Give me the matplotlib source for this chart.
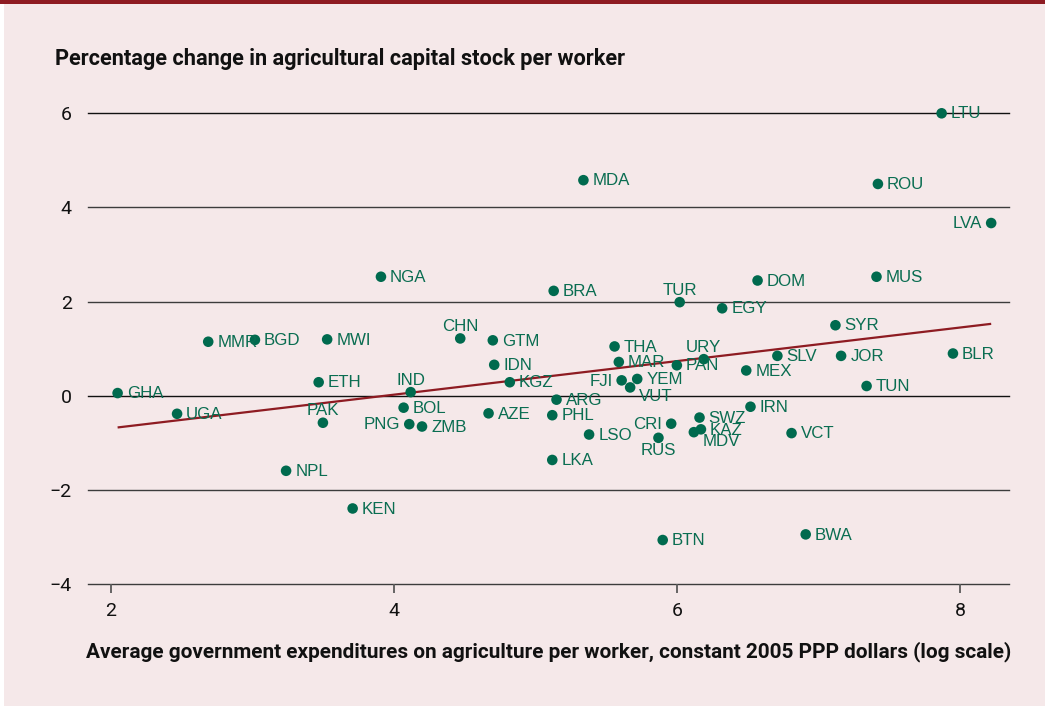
import matplotlib
matplotlib.use("Agg")
import matplotlib.pyplot as plt
from matplotlib.patches import Rectangle

# Country codes with average spending (x) and change in capital stock (y)
codes = ["GHA", "UGA", "MMR", "BGD", "MWI", "NGA", "ETH", "PAK", "NPL", "KEN",
         "IND", "BOL", "PNG", "ZMB", "CHN", "GTM", "IDN", "KGZ", "AZE", "MDA",
         "BRA", "ARG", "PHL", "LKA", "LSO", "THA", "MAR", "FJI", "YEM", "VUT",
         "TUR", "PAN", "URY", "CRI", "RUS", "BTN", "EGY", "DOM", "MEX", "SLV",
         "SWZ", "KAZ", "MDV", "IRN", "VCT", "BWA", "SYR", "JOR", "TUN", "MUS",
         "ROU", "LTU", "LVA", "BLR"]
spending = [2.05, 2.47, 2.69, 3.02, 3.53, 3.91, 3.47, 3.50, 3.24, 3.71,
            4.12, 4.07, 4.11, 4.20, 4.47, 4.70, 4.71, 4.82, 4.67, 5.34,
            5.13, 5.15, 5.12, 5.12, 5.38, 5.56, 5.59, 5.61, 5.72, 5.67,
            6.02, 6.00, 6.19, 5.96, 5.87, 5.90, 6.32, 6.57, 6.49, 6.71,
            6.16, 6.17, 6.12, 6.52, 6.81, 6.91, 7.12, 7.16, 7.34, 7.41,
            7.42, 7.87, 8.22, 7.95]
capital_change = [0.06, -0.38, 1.15, 1.19, 1.20, 2.53, 0.29, -0.57, -1.59, -2.39,
                  0.08, -0.25, -0.60, -0.65, 1.22, 1.18, 0.66, 0.29, -0.37, 4.58,
                  2.23, -0.08, -0.41, -1.36, -0.82, 1.05, 0.72, 0.33, 0.36, 0.18,
                  1.99, 0.65, 0.78, -0.59, -0.89, -3.06, 1.86, 2.45, 0.54, 0.85,
                  -0.46, -0.71, -0.77, -0.23, -0.79, -2.94, 1.50, 0.85, 0.21, 2.53,
                  4.50, 6.00, 3.67, 0.90]

# Fitted trend line end points
trend_x = [2.05, 8.22]
trend_y = [-0.67, 1.53]

y_ticks = [-4, -2, 0, 2, 4, 6]
x_ticks = [2, 4, 6, 8]

title_text = "Percentage change in agricultural capital stock per worker"
xlabel_text = ("Average government expenditures on agriculture per worker, "
               "constant 2005 PPP dollars (log scale)")

# Where each label sits relative to its dot (default: right)
label_side = {
    "CHN": "above", "IND": "above", "PAK": "above", "TUR": "above", "URY": "above",
    "PNG": "left", "FJI": "left", "CRI": "left", "LVA": "left",
    "RUS": "below",
    "VUT": "below_right", "MDV": "below_right",
}

GREEN = "#006a4e"
LABEL_GREEN = "#0a6d51"
RED = "#8e1b22"
BG = "#f5e8e9"
GRID = "#3c3c3c"
HEAD_FONT = ["Roboto", "DejaVu Sans"]

W, H = 1045, 706
fig = plt.figure(figsize=(W / 100, H / 100), dpi=100, facecolor="white")

# Panel background and top rule, kept behind the axes
fig.patches.append(Rectangle((4 / W, 0), 1 - 4 / W, 1 - 3.7 / H,
                             transform=fig.transFigure, facecolor=BG,
                             edgecolor="none", zorder=-10))
fig.patches.append(Rectangle((0, 1 - 3.7 / H), 1, 3.7 / H,
                             transform=fig.transFigure, facecolor=RED,
                             edgecolor="none", zorder=-10))

left, right = 88.3, 1009.3
top, bottom = 113.3, 584.3
ax = fig.add_axes([left / W, 1 - bottom / H, (right - left) / W, (bottom - top) / H])
ax.set_facecolor("none")
ax.set_zorder(1)

ax.set_xlim(1.843, 8.348)
ax.set_ylim(-4, 6)

for s in ax.spines.values():
    s.set_visible(False)

for yv in y_ticks:
    ax.axhline(yv, color="#111111" if yv in (0, 6) else GRID,
               lw=1.0, zorder=1, clip_on=False)

ax.set_yticks(y_ticks)
ax.set_yticklabels([str(v).replace("-", "\u2212") for v in y_ticks])
ax.set_xticks(x_ticks)
ax.set_xticklabels([str(v) for v in x_ticks])
ax.tick_params(axis="y", length=0, pad=12, labelsize=14)
ax.tick_params(axis="x", direction="out", length=6.5, width=1.3,
               color="#5a5a5a", pad=6, labelsize=14)
for lab in ax.get_xticklabels() + ax.get_yticklabels():
    lab.set_fontfamily(HEAD_FONT)
    lab.set_color("#111111")

# Trend line
ax.plot(trend_x, trend_y, color=RED, lw=1.6, zorder=2, solid_capstyle="butt")

# Country dots
ax.scatter(spending, capital_change, s=58, color=GREEN, edgecolors="none",
           zorder=3, clip_on=False)

# Country labels
for code, xv, yv in zip(codes, spending, capital_change):
    side = label_side.get(code, "right")
    if side == "right":
        off, ha, va = (6.6, -0.5), "left", "center"
    elif side == "left":
        off, ha, va = (-6.6, -0.5), "right", "center"
    elif side == "above":
        off, ha, va = (0, 8.6), "center", "center"
    elif side == "below":
        off, ha, va = (0, -8.8), "center", "center"
    else:
        off, ha, va = (6.5, -6.6), "left", "center"
    ax.annotate(code, (xv, yv), xytext=off, textcoords="offset points",
                ha=ha, va=va, fontsize=12.2, color=LABEL_GREEN,
                family=["Liberation Sans", "DejaVu Sans"], zorder=4,
                annotation_clip=False)

fig.text(55 / W, 1 - 59 / H, title_text, ha="left", va="center",
         fontsize=15.7, fontweight="bold", family=HEAD_FONT, color="#111111")
fig.text((88 + 1010) / 2 / W, 1 - 652 / H, xlabel_text, ha="center",
         va="center", fontsize=14.95, fontweight="bold", family=HEAD_FONT,
         color="#111111")

fig.savefig("out.png", dpi=100, facecolor=fig.get_facecolor())
